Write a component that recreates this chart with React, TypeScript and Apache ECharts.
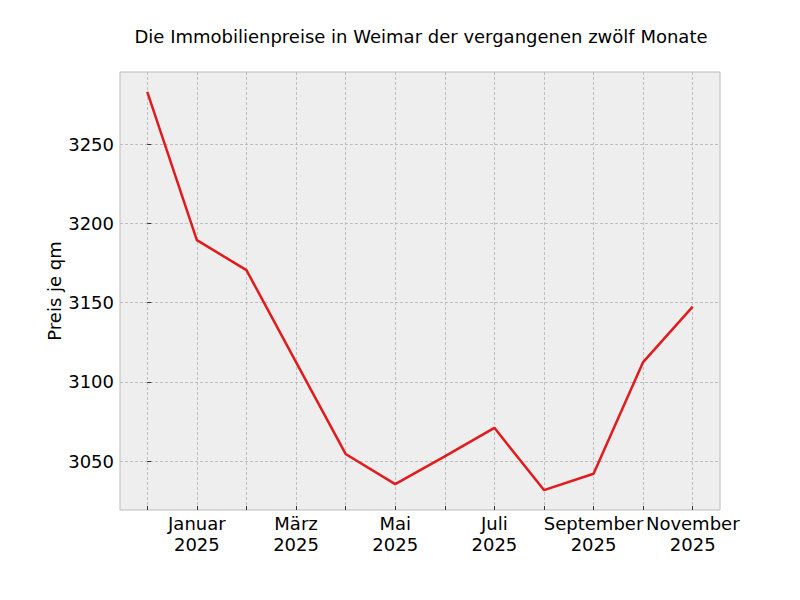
import React, { useEffect, useRef } from "react";
import * as echarts from "echarts";

const titleText = "Die Immobilienpreise in Weimar der vergangenen zwölf Monate";
const yAxisName = "Preis je qm";
const months = ["Dezember", "Januar", "Februar", "März", "April", "Mai", "Juni", "Juli", "August", "September", "Oktober", "November"];
const years = [2024, 2025, 2025, 2025, 2025, 2025, 2025, 2025, 2025, 2025, 2025, 2025];
const prices = [3283, 3189.5, 3170.5, 3112.5, 3054.5, 3035.5, 3053, 3071, 3031.7, 3042, 3112.5, 3147.5];
const labeledMonthIdx = [1, 3, 5, 7, 9, 11];
const yTicks = [3050, 3100, 3150, 3200, 3250];

export default function App() {
  const ref = useRef<HTMLDivElement>(null);
  useEffect(() => {
    if (!ref.current) return;
    const chart = echarts.init(ref.current, undefined, { renderer: "svg" });
    const font = "DejaVu Sans";
    const minV = Math.min(...prices);
    const maxV = Math.max(...prices);
    const pad = (maxV - minV) * 0.05;
    const n = prices.length;
    const xPad = (n - 1) * 0.05;
    chart.setOption({
      animation: false,
      title: {
        text: titleText,
        left: 416,
        textAlign: "center",
        top: 22,
        textStyle: { fontFamily: font, fontSize: 18, fontWeight: "normal", color: "#000" },
      },
      grid: {
        left: 120,
        right: 80,
        top: 72,
        bottom: 90,
        show: true,
        backgroundColor: "#eeeeee",
        borderColor: "#bcbcbc",
        borderWidth: 1,
      },
      xAxis: {
        type: "value",
        min: -xPad,
        max: n - 1 + xPad,
        axisLine: { show: false },
        axisTick: {
          show: true,
          inside: true,
          length: 4,
          customValues: months.map((_, i) => i),
          lineStyle: { color: "#333", width: 1 },
        },
        axisLabel: {
          customValues: labeledMonthIdx,
          formatter: (v: number) => `${months[Math.round(v)]}\n${years[Math.round(v)]}`,
          fontFamily: font,
          fontSize: 18,
          color: "#000",
          lineHeight: 21,
          margin: 3,
        },
        splitLine: {
          show: true,
          lineStyle: { color: "#b2b2b2", type: [3, 2], width: 0.8 },
        },
      },
      yAxis: {
        type: "value",
        min: minV - pad,
        max: maxV + pad,
        name: yAxisName,
        nameLocation: "middle",
        nameGap: 57,
        nameRotate: 90,
        nameMoveOverlap: false,
        nameTextStyle: { fontFamily: font, fontSize: 18, color: "#000" },
        axisLine: { show: false },
        axisTick: {
          show: true,
          inside: true,
          length: 4,
          customValues: yTicks,
          lineStyle: { color: "#333", width: 1 },
        },
        axisLabel: {
          customValues: yTicks,
          formatter: (v: number) => String(Math.round(v)),
          fontFamily: font,
          fontSize: 18,
          color: "#000",
          margin: 6,
        },
        splitLine: {
          show: true,
          lineStyle: { color: "#b2b2b2", type: [3, 2], width: 0.8 },
        },
      },
      series: [
        {
          type: "line",
          data: prices.map((p, i) => [i, p]),
          showSymbol: false,
          symbol: "none",
          lineStyle: { color: "#e31a1c", width: 2.5 },
        },
      ],
    });
    return () => chart.dispose();
  }, []);
  return <div ref={ref} style={{ position: "fixed", left: 0, top: 0, width: 800, height: 600, background: "#fff" }} />;
}
